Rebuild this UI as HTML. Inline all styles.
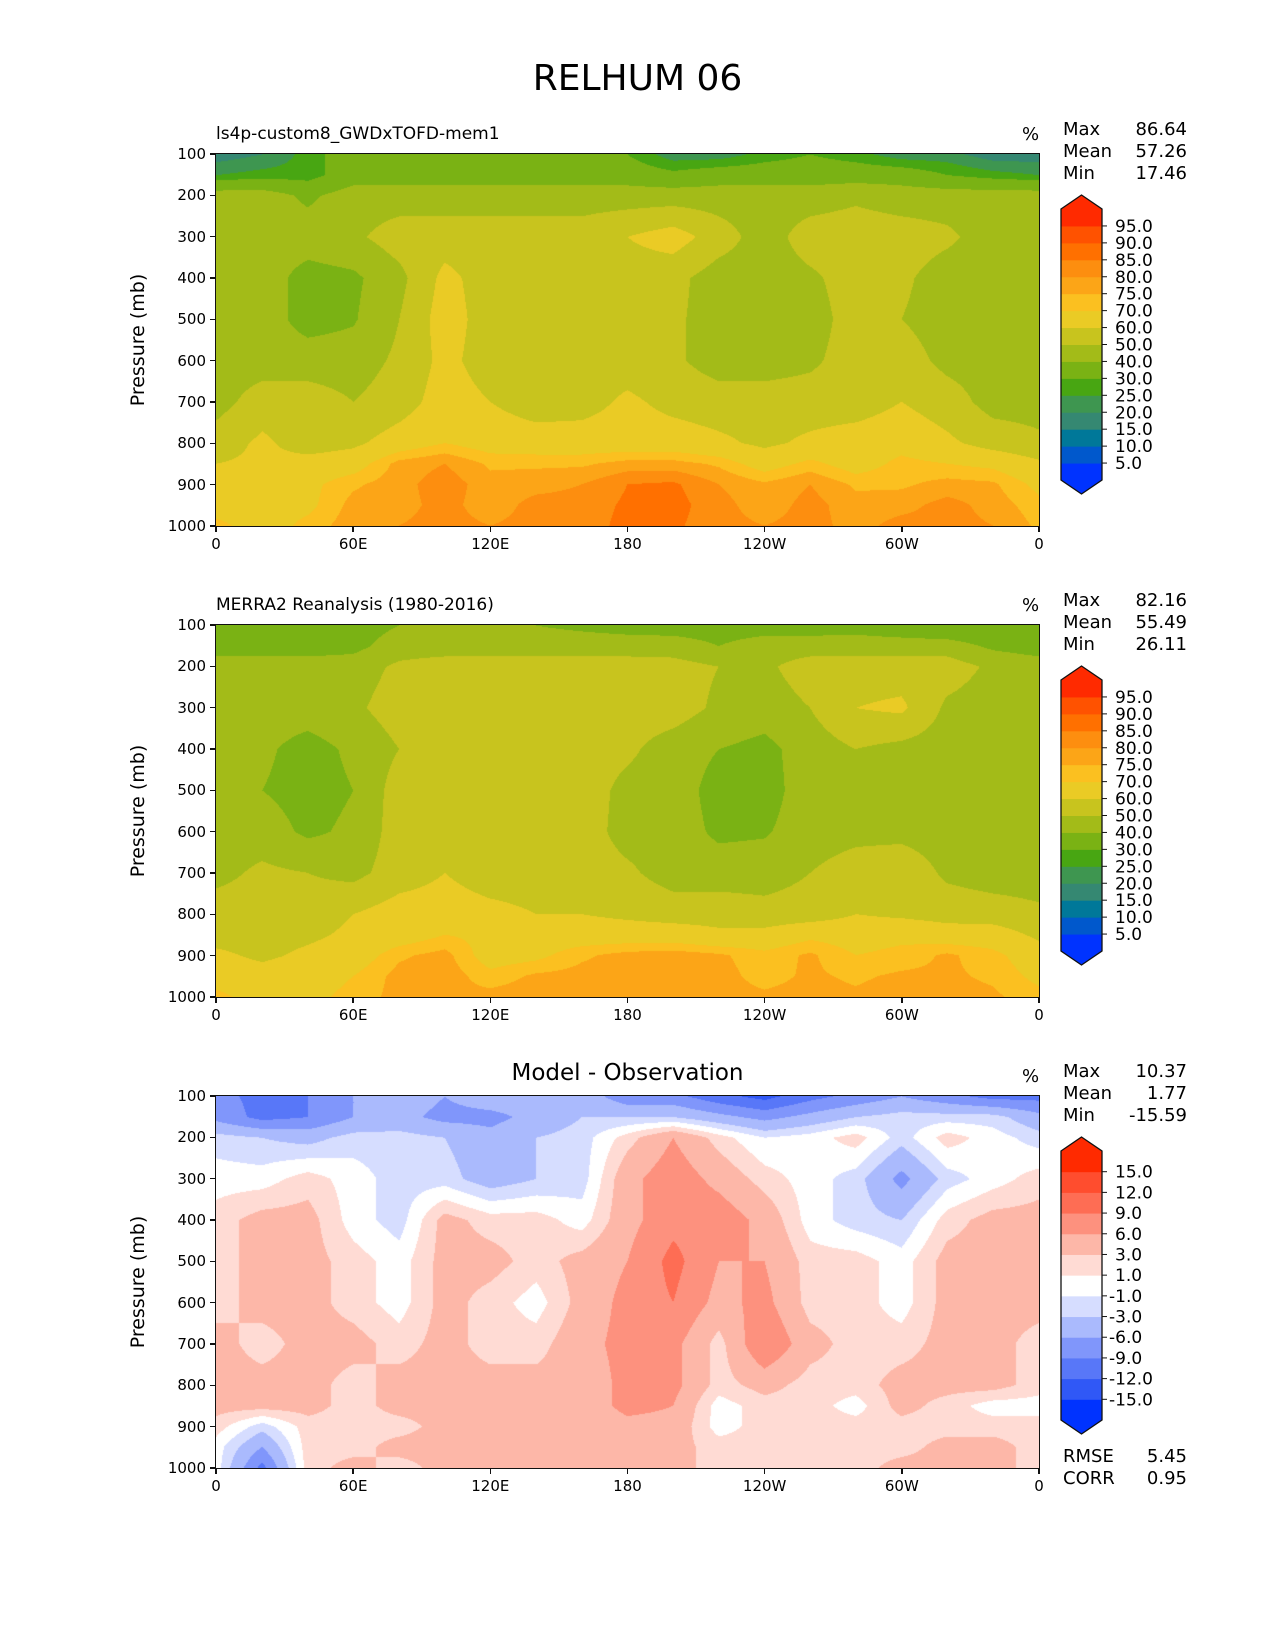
<!DOCTYPE html>
<html><head><meta charset="utf-8">
<style>
body{margin:0;background:#fff;}
#root{position:relative;width:1275px;height:1650px;overflow:hidden;background:#fff;font-family:"DejaVu Sans","Liberation Sans",sans-serif;color:#000;}
.abs{position:absolute;white-space:nowrap;}
canvas{position:absolute;}
.frame{position:absolute;border:1.5px solid #111;box-sizing:border-box;}
.tk{position:absolute;background:#111;}
.tl{position:absolute;font-size:15px;white-space:nowrap;}
.st{position:absolute;font-size:18px;white-space:nowrap;}
</style></head><body>
<div id="root">
<div class="abs" style="left:0;width:1275px;text-align:center;top:58px;font-size:36px;">RELHUM 06</div>
<svg id="cbsvg" width="1275" height="1650" style="position:absolute;left:0;top:0;"></svg>
</div>
<script>
// ---------- data ----------
const lons=[0,20,40,60,80,100,120,140,160,180,200,220,240,260,280,300,320,340,360];
const plevs=[100,150,200,300,400,500,600,700,800,850,900,950,1000];
const model=[
[17,20,27,35,35,35,35,35,35,30,22,22,27,30,27,22,22,17,17],
[25,27,27,35,35,35,35,35,35,35,32,35,35,35,35,35,30,27,25],
[45,45,38,45,45,45,45,45,45,45,45,45,45,45,48,45,45,45,45],
[48,45,45,48,55,55,55,55,55,60,65,55,45,55,56,55,52,45,45],
[45,45,36,38,47,63,55,55,55,55,53,45,45,48,55,52,45,45,45],
[45,45,36,39,50,65,55,55,55,55,52,45,45,45,55,50,45,45,45],
[45,45,45,45,52,63,55,55,55,55,52,45,45,48,55,55,47,45,45],
[46,55,55,50,55,65,60,55,56,62,57,55,55,55,55,60,55,46,46],
[55,62,55,58,65,70,66,65,65,65,65,62,58,62,65,67,62,56,52],
[60,62,64,66,77,80,74,74,74,77,77,74,66,72,66,72,70,68,62],
[62,66,68,74,78,83,77,78,80,85,86,80,76,80,74,74,77,76,68],
[66,66,68,77,78,82,77,82,82,86,87,82,77,82,77,78,82,78,72],
[72,66,72,78,80,82,80,82,82,87,86,82,80,82,78,82,82,80,74]];
const obs=[
[35,35,35,35,40,45,42,40,38,36,35,35,35,35,36,33,30,30,32],
[35,35,35,37,45,45,45,45,45,45,45,40,45,45,45,45,45,38,35],
[45,45,45,45,52,55,55,55,55,55,54,50,48,55,55,55,55,48,45],
[50,45,45,48,55,55,58,60,55,55,55,48,45,50,60,62,48,45,45],
[45,42,36,42,50,55,55,55,55,52,45,40,37,45,50,47,45,45,45],
[45,40,36,40,55,55,55,55,55,47,45,36,36,45,50,50,45,45,45],
[45,45,38,42,55,55,55,55,55,46,45,38,39,45,47,47,45,45,45],
[47,52,50,47,55,60,55,55,55,52,45,45,45,50,55,57,48,45,45],
[55,55,55,60,65,65,63,60,60,58,56,56,54,55,60,58,56,55,52],
[56,56,58,62,65,70,68,65,65,65,65,62,63,68,66,68,65,65,58],
[62,58,62,65,74,77,66,68,74,77,78,76,72,76,70,72,76,72,65],
[66,64,66,70,77,78,72,76,77,77,77,77,73,76,74,76,76,74,68],
[72,66,68,72,77,76,77,78,77,78,77,77,76,77,76,78,77,76,72]];
const diff=[
[-8,-10,-9,-6,-4,-6,-4,-4,-4,-8,-8,-11,-13,-10,-8,-6,-8,-10,-10],
[-7,-10,-9,-6,-5,-7,-7,-5,-3,-3,-3,-5,-7,-5,-3,-2,-2,-2,-5],
[-2,-3,-4,-2,-2,-3,-5,-3,-2,2,6,2,-1,0,2,-2,2,0,-2],
[0,0,2,0,-2,-2,-4.5,-3,-2,5,8,5,2,0,-2,-7,-2,0,2],
[2,4,4,0,-2,4,2,2,0,5,8,8,5,0,-2,-3,2,4,4],
[2,4,4,2,0,4,4,2,4,6,10,6,6,2,2,0,4,4,4],
[2,4,4,2,0,4,2,0,4,7,9,5,7,2,2,0,4,4,4],
[4,2,4,4,2,4,2,2,5,7,7,2,9,4,2,2,4,4,2],
[4,4,4,2,4,4,4,4,4,7,7,2,4,2,2,4,4,4,2],
[4,4,4,2,4,4,4,4,4,7,6,0,2,2,0,4,2,0,0],
[2,-2,2,2,2,4,4,4,4,5,5,0,2,2,2,2,2,2,2],
[0,-6,2,2,4,4,4,4,4,4,4,2,2,2,2,2,4,4,2],
[0,-10,2,4,2,4,4,4,4,4,4,2,2,2,2,4,4,4,2]];
const rhLevels=[5,10,15,20,25,30,40,50,60,70,75,80,85,90,95];
const rhColors=['#0033ff','#0058cc','#007899','#358872','#3e9650','#48a612','#7ab214','#a3bb18','#c8c41e','#eacb25','#fbc020','#fca517','#fd8e0f','#ff7000','#ff5200','#ff2a00'];
const dLevels=[-15,-12,-9,-6,-3,-1,1,3,6,9,12,15];
const dColors=['#0033ff','#3058f6','#5877f8','#8096fb','#aabafd','#d6ddff','#ffffff','#ffdbd4','#fdb7a8','#fd917e','#fe6d54','#ff4d2e','#ff2a00'];
const xTicks=['0','60E','120E','180','120W','60W','0'];
const yTicks=['100','200','300','400','500','600','700','800','900','1000'];
const stats=[['86.64','57.26','17.46'],['82.16','55.49','26.11'],['10.37','1.77','-15.59']];
const titles=['ls4p-custom8_GWDxTOFD-mem1','MERRA2 Reanalysis (1980-2016)',''];
// ---------- layout ----------
const PX=216,PW=823,PH=372,PT=[154,625,1096];
const root=document.getElementById('root');
const svg=document.getElementById('cbsvg');
const NS='http://www.w3.org/2000/svg';
function hex(c){return [parseInt(c.substr(1,2),16),parseInt(c.substr(3,2),16),parseInt(c.substr(5,2),16)];}
function sample(grid,lon,p){
  let j=Math.min(Math.floor(lon/20),lons.length-2);let fx=(lon-lons[j])/20;
  let i=0;while(i<plevs.length-2&&p>plevs[i+1])i++;
  let fy=(p-plevs[i])/(plevs[i+1]-plevs[i]);
  const a=grid[i][j],b=grid[i][j+1],c=grid[i+1][j],d=grid[i+1][j+1];
  return (a*(1-fx)+b*fx)*(1-fy)+(c*(1-fx)+d*fx)*fy;
}
function drawField(k,grid,levels,colors){
  const cv=document.createElement('canvas');
  
  
  cv.width=PW;cv.height=PH;cv.style.left=PX+'px';cv.style.top=PT[k]+'px';
  const ctx=cv.getContext('2d');const img=ctx.createImageData(PW,PH);
  const rgb=colors.map(hex);
  for(let y=0;y<PH;y++){const p=100+900*y/(PH-1);
    for(let x=0;x<PW;x++){const lon=360*x/(PW-1);
      const v=sample(grid,lon,p);let b=0;while(b<levels.length&&v>=levels[b])b++;
      const c=rgb[b];const o=(y*PW+x)*4;img.data[o]=c[0];img.data[o+1]=c[1];img.data[o+2]=c[2];img.data[o+3]=255;}}
  ctx.putImageData(img,0,0);root.appendChild(cv);
}
function addDiv(cls,name,style,text){
  const d=document.createElement('div');d.className=cls;
  
  
  d.setAttribute('style',style);if(text!==undefined)d.textContent=text;root.appendChild(d);return d;}
function axes(k){
  const top=PT[k];
  addDiv('frame','plot-frame-'+(k+1),`left:${PX-1}px;top:${top-1}px;width:${PW+2}px;height:${PH+2}px;`);
  yTicks.forEach((t,i)=>{const y=top+PH*i/(yTicks.length-1);
    addDiv('tk','y-tick',`left:${PX-6}px;top:${y-0.75}px;width:6px;height:1.5px;`);
    addDiv('tl','y-tick-label',`left:${PX-70}px;width:60px;text-align:right;top:${y-9}px;`,t);});
  xTicks.forEach((t,i)=>{const x=PX+PW*i/(xTicks.length-1);
    addDiv('tk','x-tick',`left:${x-0.75}px;top:${top+PH}px;width:1.5px;height:6px;`);
    addDiv('tl','x-tick-label',`left:${x-40}px;width:80px;text-align:center;top:${top+PH+9}px;`,t);});
  addDiv('abs','y-axis-title',`left:${138-70}px;width:140px;text-align:center;top:${top+PH/2-11}px;font-size:19px;transform:rotate(-90deg);`,'Pressure (mb)');
  if(titles[k])addDiv('abs','panel-subtitle',`left:${PX}px;top:${top-30}px;font-size:17px;`,titles[k]);
  addDiv('abs','units-label',`left:1022px;top:${top-30}px;font-size:18px;`,'%');
  ['Max','Mean','Min'].forEach((n,i)=>{
    addDiv('st','stat-name',`left:1063px;top:${top-35+i*22}px;`,n);
    addDiv('st','stat-value',`left:1127px;width:60px;text-align:right;top:${top-35+i*22}px;`,stats[k][i]);});
}
function colorbar(k,levels,colors,y0,h,name){
  const x0=1061,w=41,n=colors.length,tri=14,ib=y0+tri,ih=h-2*tri,bh=ih/n;
  for(let b=0;b<n;b++){const r=document.createElementNS(NS,'rect');
    
    
    r.setAttribute('x',x0);r.setAttribute('y',ib+ih-(b+1)*bh);r.setAttribute('width',w);r.setAttribute('height',bh+0.5);r.setAttribute('fill',colors[b]);svg.appendChild(r);}
  const tp=document.createElementNS(NS,'polygon');
  
  
  tp.setAttribute('points',`${x0},${ib+0.5} ${x0+w/2},${y0} ${x0+w},${ib+0.5}`);tp.setAttribute('fill',colors[n-1]);svg.appendChild(tp);
  const bt=document.createElementNS(NS,'polygon');
  
  
  bt.setAttribute('points',`${x0},${ib+ih-0.5} ${x0+w/2},${y0+h} ${x0+w},${ib+ih-0.5}`);bt.setAttribute('fill',colors[0]);svg.appendChild(bt);
  const ol=document.createElementNS(NS,'polygon');
  
  
  ol.setAttribute('points',`${x0},${ib} ${x0+w/2},${y0} ${x0+w},${ib} ${x0+w},${ib+ih} ${x0+w/2},${y0+h} ${x0},${ib+ih}`);
  ol.setAttribute('fill','none');ol.setAttribute('stroke','#111');ol.setAttribute('stroke-width','1.3');svg.appendChild(ol);
  levels.forEach((l,i)=>{const y=ib+ih-(i+1)*bh;
    const t=document.createElementNS(NS,'line');
    
    
    t.setAttribute('x1',x0+w);t.setAttribute('x2',x0+w+5);t.setAttribute('y1',y);t.setAttribute('y2',y);t.setAttribute('stroke','#111');svg.appendChild(t);
    const tx=document.createElementNS(NS,'text');
    
    
    tx.setAttribute('x',l<0?1109:1115);tx.setAttribute('y',y+6);tx.setAttribute('font-size','17');tx.setAttribute('font-family','DejaVu Sans, Liberation Sans, sans-serif');
    tx.textContent=l.toFixed(1);svg.appendChild(tx);});
}
drawField(0,model,rhLevels,rhColors);
drawField(1,obs,rhLevels,rhColors);
drawField(2,diff,dLevels,dColors);
[0,1,2].forEach(axes);
colorbar(0,rhLevels,rhColors,195,299,'colorbar-model');
colorbar(1,rhLevels,rhColors,666,299,'colorbar-obs');
colorbar(2,dLevels,dColors,1137,297,'colorbar-diff');
addDiv('abs','diff-panel-title',`left:${PX}px;width:${PW}px;text-align:center;top:1060px;font-size:23px;`,'Model - Observation');
addDiv('st','rmse-label','left:1063px;top:1446px;','RMSE');
addDiv('st','rmse-value','left:1127px;width:60px;text-align:right;top:1446px;','5.45');
addDiv('st','corr-label','left:1063px;top:1468px;','CORR');
addDiv('st','corr-value','left:1127px;width:60px;text-align:right;top:1468px;','0.95');
</script>
</body></html>
